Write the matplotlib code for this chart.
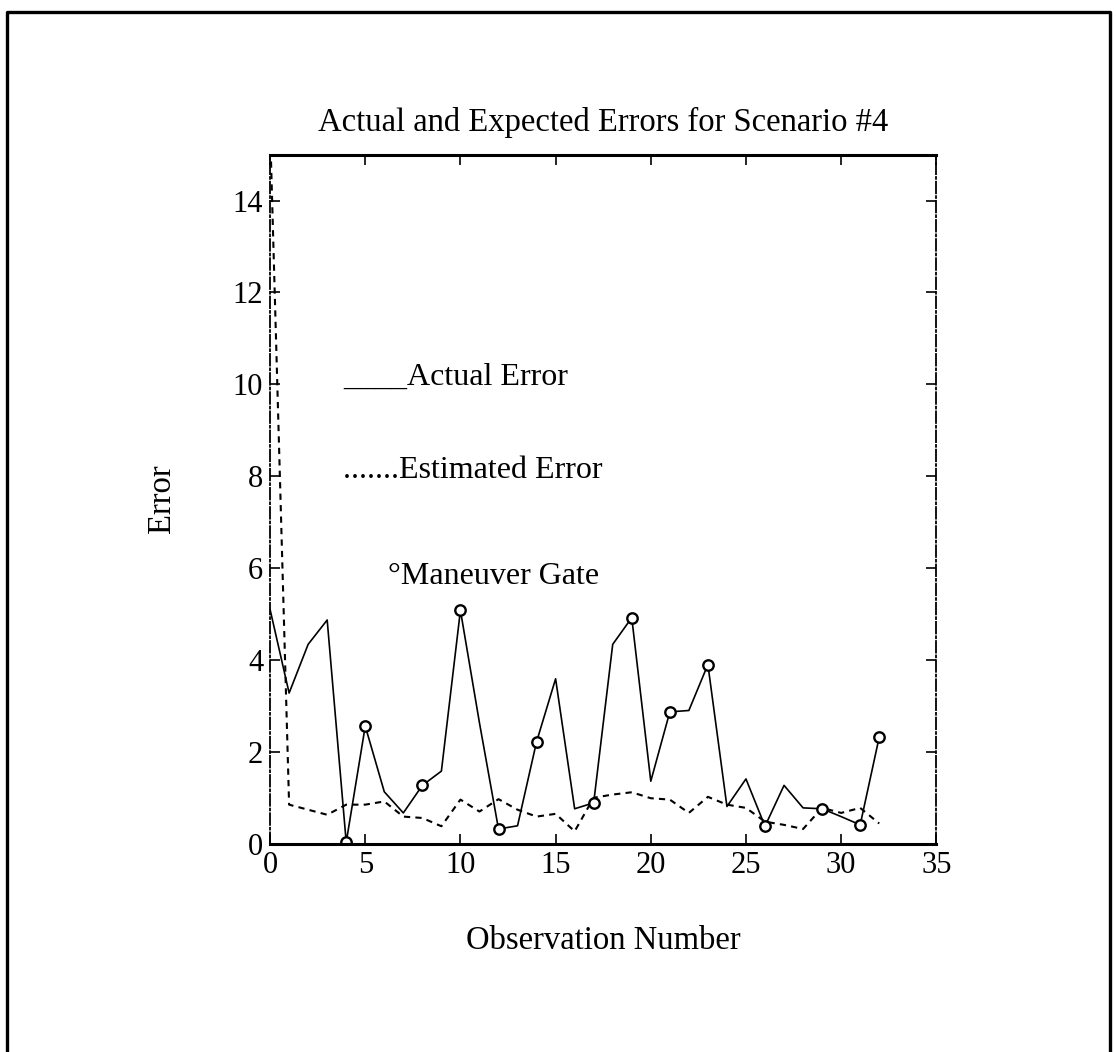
import matplotlib.pyplot as plt
from matplotlib.lines import Line2D
import numpy as np

# Data
obs = np.arange(0, 33)
actual_err = [5.1, 3.28, 4.34, 4.87, 0.03, 2.56, 1.13, 0.67, 1.27, 1.58,
              5.08, 2.63, 0.32, 0.39, 2.22, 3.59, 0.76, 0.89, 4.34, 4.92,
              1.36, 2.87, 2.9, 3.9, 0.81, 1.41, 0.38, 1.27, 0.78, 0.76,
              0.59, 0.41, 2.32]
estimated_err = [15.6, 0.85, 0.74, 0.63, 0.85, 0.85, 0.92, 0.59, 0.56, 0.38,
                 0.96, 0.70, 0.97, 0.74, 0.59, 0.65, 0.27, 1.0, 1.07, 1.12,
                 0.99, 0.96, 0.67, 1.02, 0.85, 0.78, 0.48, 0.41, 0.32, 0.78,
                 0.67, 0.78, 0.44]
gate_obs = [4, 5, 8, 10, 12, 14, 17, 19, 21, 23, 26, 29, 31, 32]

plt.rcParams['font.family'] = ['Liberation Serif', 'DejaVu Serif']

fig = plt.figure(figsize=(11.16, 10.52), dpi=100)
ax = fig.add_axes([0.242, 0.198, 0.597, 0.655])

ax.plot(obs, actual_err, color="black", linewidth=1.2)
ax.plot(obs, estimated_err, color="black", linewidth=1.5, linestyle=(0, (3, 2.5)))
gate_vals = [actual_err[i] for i in gate_obs]
ax.plot(gate_obs, gate_vals, linestyle="none", marker="o", markersize=7.5,
        markerfacecolor="white", markeredgecolor="black", markeredgewidth=1.7)

# in-plot legend written as plain text, as in the original
ax.text(3.84, 10.0, "____Actual Error", fontsize=23, va="baseline")
ax.text(3.84, 7.97, ".......Estimated Error", fontsize=23, va="baseline")
ax.text(6.2, 5.65, "°Maneuver Gate", fontsize=23, va="baseline")

ax.set_xlim(0, 35)
ax.set_ylim(0, 15)
ax.set_xticks(np.arange(0, 36, 5))
ax.set_yticks(np.arange(0, 15, 2))
ax.tick_params(direction="in", length=7, width=1.2, labelsize=22,
               top=True, right=True, pad=5)

for side in ["top", "bottom"]:
    ax.spines[side].set_linewidth(2.2)
for side in ["left", "right"]:
    ax.spines[side].set_linewidth(1.3)
    ax.spines[side].set_linestyle("-.")

ax.set_title("Actual and Expected Errors for Scenario #4", fontsize=23.5, pad=17)
ax.set_xlabel("Observation Number", fontsize=23.5)
ax.set_ylabel("Error", fontsize=23.5)
ax.xaxis.set_label_coords(0.5, -0.118)
ax.yaxis.set_label_coords(-0.14, 0.5)

# page border around the figure (left, top, right)
fig.add_artist(Line2D([0.006, 0.006, 0.995, 0.995], [0.0, 0.989, 0.989, 0.0],
                      color="black", linewidth=2.4, transform=fig.transFigure))

plt.savefig("out.png", dpi=100)
